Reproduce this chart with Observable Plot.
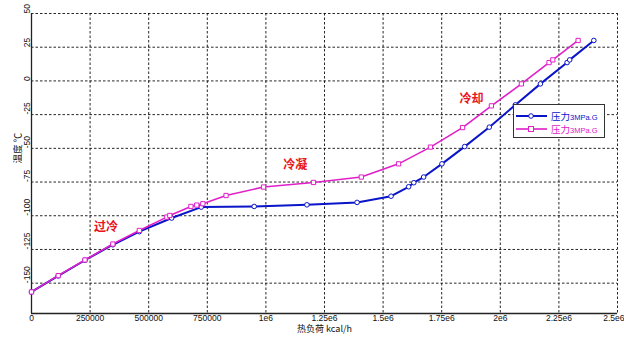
<!DOCTYPE html>
<html><head><meta charset="utf-8">
<script src="https://cdn.jsdelivr.net/npm/d3@7"></script>
<script src="https://cdn.jsdelivr.net/npm/@observablehq/plot@0.6"></script>
<style>
body{margin:0;background:#fff;}
#wrap{position:relative;width:624px;height:337px;}
#legend{position:absolute;left:513px;top:104px;width:92px;height:34px;border:1px solid #333;background:#fff;box-sizing:border-box;}
.row{position:absolute;left:0;height:12px;display:flex;align-items:center;overflow:hidden;}
.lbl{font-family:"Noto Sans CJK SC",sans-serif;font-size:9.5px;margin-left:2px;line-height:12px;height:12px;}
.lbl small{font-family:"Liberation Sans",sans-serif;font-size:7.5px;}
</style></head>
<body><div id="wrap"><div id="legend"></div></div>
<script>
// Series: 压力3MPa.G (blue, circles)
const blueX = [0,114000,228000,347000,460000,598000,724000,950000,1175000,1389000,1534000,1609000,1631000,1673000,1751000,1848000,1953000,2064000,2171000,2285000,2296000,2399000];
const blueT = [-156.5,-144.6,-133,-121.5,-111.8,-101.7,-93.6,-93.1,-91.9,-90.1,-85.5,-78.5,-75.5,-71.3,-61.5,-48.7,-34.3,-17.8,-2.2,13.6,15.6,30];
// Series: 压力3MPa.G (magenta, squares)
const magX = [0,114000,228000,347000,460000,577000,590000,680000,705000,731000,830000,990000,1203000,1407000,1566000,1702000,1839000,1962000,2090000,2208000,2224000,2332000];
const magT = [-156.5,-144.4,-132.8,-121,-110.9,-101,-99.8,-93.1,-92.1,-91.1,-85,-78.7,-75.3,-71.3,-61.5,-49.1,-34.6,-18.5,-2.2,13.6,15.6,30];
const seriesNames = ["压力", "压力"];
const seriesSuffix = ["3MPa.G", "3MPa.G"];
const xTicks = [0,250000,500000,750000,1000000,1250000,1500000,1750000,2000000,2250000,2500000];
const xTickLabels = ["0","250000","500000","750000","1e6","1.25e6","1.5e6","1.75e6","2e6","2.25e6","2.5e6"];
const yTicks = [50,25,0,-25,-50,-75,-100,-125,-150];
const yTickLabels = ["50","25","0","-25","-50","-75","-100","-125","-150"];
const regionLabels = ["过冷","冷凝","冷却"];
const regionX = [318000,1125000,1877000];
const regionT = [-108.8,-62.7,-13.7];
const xTitle = "热负荷 kcal/h";
const yTitle = "温度 ℃";

const BLUE = "#0a14c8", MAG = "#e020c8";
const blue = blueX.map((x,i)=>({x, t: blueT[i]}));
const mag = magX.map((x,i)=>({x, t: magT[i]}));
const xt = xTicks.map((v,i)=>({v, l: xTickLabels[i]}));
const xtMain = xt.slice(0, -1), xtLast = xt.slice(-1);
const yt = yTicks.map((v,i)=>({v, l: yTickLabels[i]}));
const reg = regionLabels.map((l,i)=>({l, x: regionX[i], t: regionT[i]}));
const FONT = "Liberation Sans, Arial, sans-serif";
const CJK = "Noto Sans CJK SC, sans-serif";

const chart = Plot.plot({
  width: 624, height: 337,
  marginLeft: 31, marginRight: 7, marginTop: 13, marginBottom: 24,
  x: {domain: [0, 2500000], axis: null},
  y: {domain: [-172.5, 50], axis: null},
  style: {background: "#fff", fontFamily: FONT},
  marks: [
    Plot.ruleX(xTicks, {stroke: "#000", strokeDasharray: "2.5,2", strokeWidth: 1, strokeOpacity: 0.85}),
    Plot.ruleY(yTicks, {stroke: "#000", strokeDasharray: "2.5,2", strokeWidth: 1, strokeOpacity: 0.85}),
    Plot.ruleX([0], {stroke: "#222", strokeWidth: 1.3}),
    Plot.ruleY([-172.5], {stroke: "#222", strokeWidth: 1.3}),
    Plot.text(xtMain, {x: "v", text: "l", frameAnchor: "bottom", lineAnchor: "top", dy: 1.5, fontSize: 8.5, fill: "#111"}),
    Plot.text(xtLast, {x: "v", text: "l", frameAnchor: "bottom", lineAnchor: "top", textAnchor: "end", dx: 7, dy: 1.5, fontSize: 8.5, fill: "#111"}),
    Plot.text(yt, {y: "v", text: "l", frameAnchor: "left", dx: -4, rotate: -90, fontSize: 8.5, fill: "#111"}),
    Plot.text([xTitle], {frameAnchor: "bottom", lineAnchor: "top", dy: 12.5, fontSize: 9, fill: "#111", fontFamily: CJK}),
    Plot.text([yTitle], {frameAnchor: "left", dx: -14, rotate: -90, fontSize: 9.5, fill: "#111", fontFamily: CJK}),
    Plot.line(blue, {x: "x", y: "t", stroke: BLUE, strokeWidth: 2}),
    Plot.dot(blue, {x: "x", y: "t", r: 2.3, stroke: BLUE, fill: "#fff", strokeWidth: 1}),
    Plot.line(mag, {x: "x", y: "t", stroke: MAG, strokeWidth: 1.6}),
    Plot.dot(mag, {x: "x", y: "t", symbol: "square", r: 2.4, stroke: MAG, fill: "#fff", strokeWidth: 1}),
    Plot.text(reg, {x: "x", y: "t", text: "l", fill: "#e8141e", fontSize: 12, fontWeight: "bold", fontFamily: CJK})
  ]
});
document.getElementById("wrap").prepend(chart);

// legend
const leg = document.getElementById("legend");
const cols = [BLUE, MAG];
const syms = ["circle", "square"];
seriesNames.forEach((n, i) => {
  const row = document.createElement("div");
  row.className = "row";
  row.style.top = (5 + i * 13) + "px";
  const mk = syms[i] === "circle"
    ? `<circle cx="17" cy="6" r="2.3" fill="#fff" stroke="${cols[i]}"/>`
    : `<rect x="14.5" y="3.5" width="5" height="5" fill="#fff" stroke="${cols[i]}"/>`;
  row.innerHTML = `<svg width="35" height="12"><line x1="2" x2="33" y1="6" y2="6" stroke="${cols[i]}" stroke-width="${i ? 1.6 : 2}"/>${mk}</svg><span class="lbl" style="color:${cols[i]}">${n}<small>${seriesSuffix[i]}</small></span>`;
  leg.appendChild(row);
});
</script></body></html>
